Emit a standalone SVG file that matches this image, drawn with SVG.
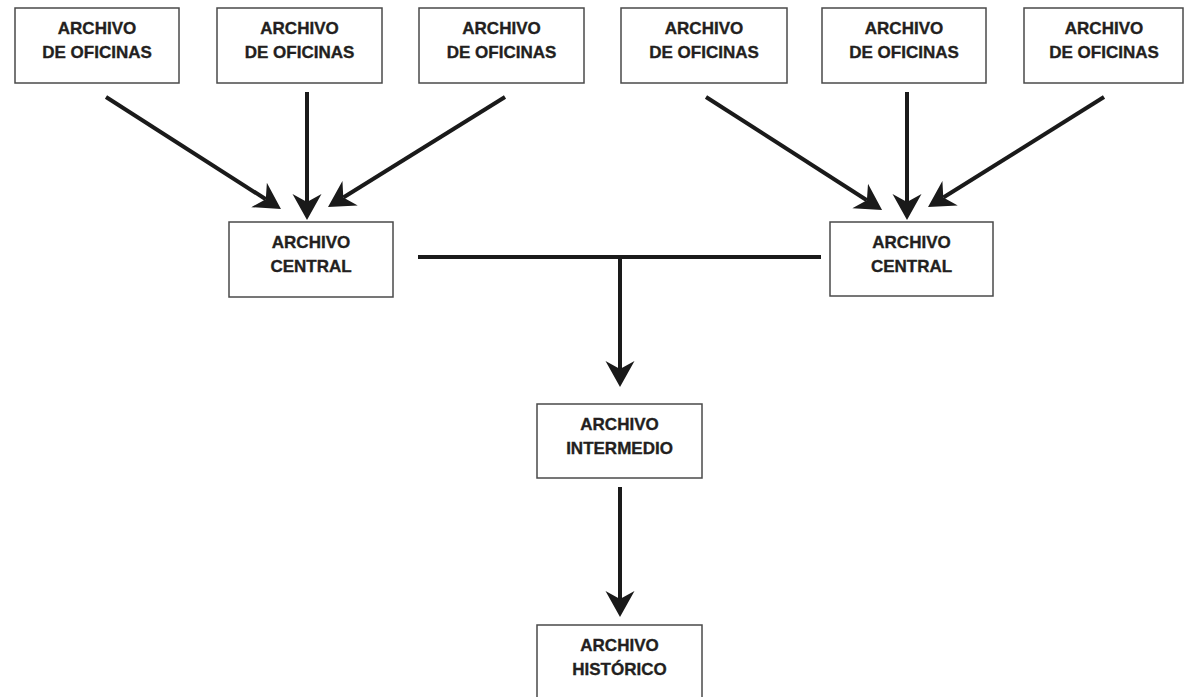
<svg xmlns="http://www.w3.org/2000/svg" width="1185" height="697" viewBox="0 0 1185 697">
<style>
.box{fill:#fff;stroke:#4a4a4a;stroke-width:1.5}
.t{font-family:"Liberation Sans",Arial,sans-serif;font-weight:700;font-size:17px;fill:#231f20;stroke:#231f20;stroke-width:0.35;text-anchor:middle}
.c{stroke:#1a1a1a;stroke-width:4;fill:none}
</style>
<defs>
<marker id="ah" markerUnits="userSpaceOnUse" viewBox="0 -15 27 30" markerWidth="27" markerHeight="30" refX="8" refY="0" orient="auto">
<path d="M0,-14.5 L26,0 L0,14.5 L8,0 Z" fill="#1a1a1a"/>
</marker>
</defs>
<rect width="1185" height="697" fill="#fff"/>
<g id="of1"><rect class="box" x="15" y="8" width="164" height="75"/><text class="t" x="97" y="34">ARCHIVO</text><text class="t" x="97" y="58">DE OFICINAS</text></g>
<g id="of2"><rect class="box" x="217" y="8" width="165" height="75"/><text class="t" x="299.5" y="34">ARCHIVO</text><text class="t" x="299.5" y="58">DE OFICINAS</text></g>
<g id="of3"><rect class="box" x="419" y="8" width="165" height="75"/><text class="t" x="501.5" y="34">ARCHIVO</text><text class="t" x="501.5" y="58">DE OFICINAS</text></g>
<g id="of4"><rect class="box" x="621" y="8" width="166" height="75"/><text class="t" x="704" y="34">ARCHIVO</text><text class="t" x="704" y="58">DE OFICINAS</text></g>
<g id="of5"><rect class="box" x="822" y="8" width="164" height="75"/><text class="t" x="904" y="34">ARCHIVO</text><text class="t" x="904" y="58">DE OFICINAS</text></g>
<g id="of6"><rect class="box" x="1024" y="8" width="159" height="75"/><text class="t" x="1104" y="34">ARCHIVO</text><text class="t" x="1104" y="58">DE OFICINAS</text></g>
<g id="central1"><rect class="box" x="229" y="222" width="164" height="75"/><text class="t" x="311" y="248">ARCHIVO</text><text class="t" x="311" y="272">CENTRAL</text></g>
<g id="central2"><rect class="box" x="830" y="222" width="163" height="74"/><text class="t" x="911.5" y="248">ARCHIVO</text><text class="t" x="911.5" y="272">CENTRAL</text></g>
<g id="intermedio"><rect class="box" x="537" y="404" width="165" height="74"/><text class="t" x="619.5" y="430">ARCHIVO</text><text class="t" x="619.5" y="454">INTERMEDIO</text></g>
<g id="historico"><rect class="box" x="537" y="625" width="165" height="80"/><text class="t" x="619.5" y="651">ARCHIVO</text><text class="t" x="619.5" y="675">HISTÓRICO</text></g>
<g id="connectors">
<line class="c" x1="106" y1="97" x2="265.8" y2="199.3" marker-end="url(#ah)"/>
<line class="c" x1="307" y1="92" x2="307" y2="202" marker-end="url(#ah)"/>
<line class="c" x1="505" y1="97" x2="343.3" y2="197.5" marker-end="url(#ah)"/>
<line class="c" x1="706" y1="97" x2="866.9" y2="200.3" marker-end="url(#ah)"/>
<line class="c" x1="907" y1="92" x2="907" y2="202" marker-end="url(#ah)"/>
<line class="c" x1="1104" y1="97" x2="943.3" y2="197.5" marker-end="url(#ah)"/>
<line class="c" x1="418" y1="257" x2="821" y2="257"/>
<line class="c" x1="620" y1="257" x2="620" y2="369" marker-end="url(#ah)"/>
<line class="c" x1="620" y1="487" x2="620" y2="599" marker-end="url(#ah)"/>
</g>
</svg>
